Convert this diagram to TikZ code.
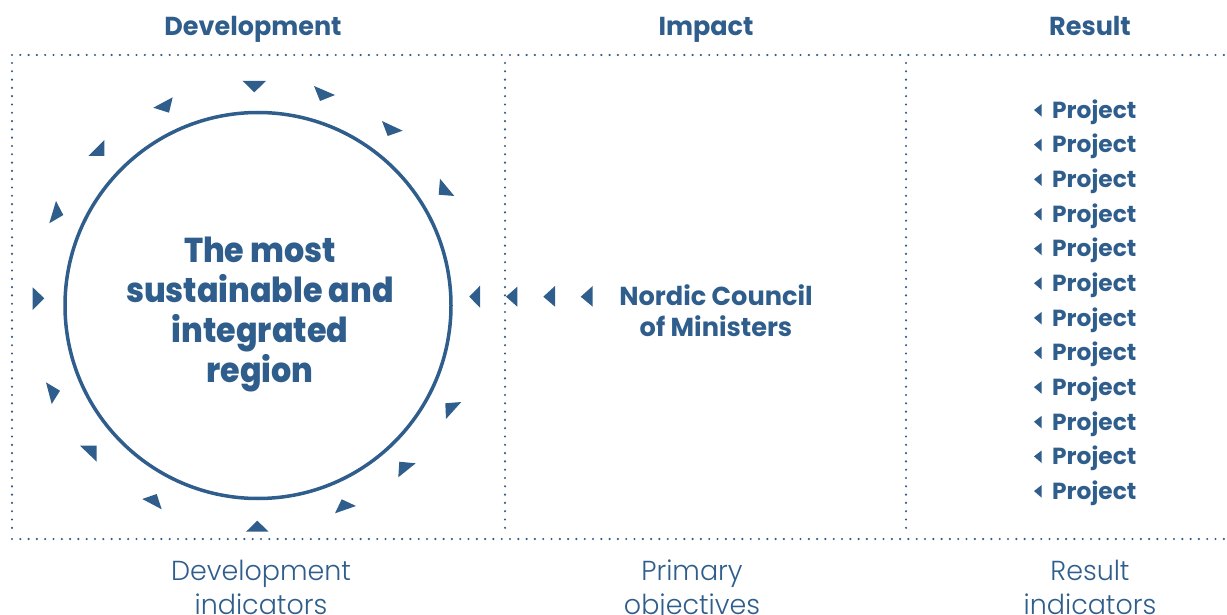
\documentclass[tikz,border=0pt]{standalone}
\usepackage{fontspec}
\setmainfont{Poppins}
\newfontfamily\plight{Poppins Light}
\newfontfamily\pbold{Poppins Bold}
\newfontfamily\pxbold{Poppins ExtraBold}
\definecolor{nblue}{RGB}{47,94,140}
\tikzset{
  dotline/.style={nblue, line width=2.4pt, line cap=round, dash pattern=on 0pt off 8.3pt},
  head/.style={text=nblue, font=\pbold\fontsize{26}{30}\selectfont, xscale=0.98, anchor=base, inner sep=0pt},
  foot/.style={text=nblue, font=\plight\fontsize{27.5}{32}\selectfont, xscale=0.98, anchor=base, inner sep=0pt},
  goalline/.style={text=nblue, font=\pxbold\fontsize{34.5}{40}\selectfont, xscale=0.92, anchor=base, inner sep=0pt},
  ncm/.style={text=nblue, font=\pbold\fontsize{26}{30}\selectfont, xscale=0.985, anchor=base, inner sep=0pt},
  proj/.style={text=nblue, font=\pbold\fontsize{23.3}{28}\selectfont, anchor=base west, inner sep=0pt},
  tri/.style={fill=nblue, draw=none},
}
\begin{document}
\begin{tikzpicture}[x=1pt,y=-1pt]
\useasboundingbox (0,0) rectangle (1227,615);
% dotted frame
\draw[dotline] (12,55) -- (1227,55);
\draw[dotline] (12,539) -- (1227,539);
\draw[dotline] (12,63) -- (12,531);
\draw[dotline] (505,63) -- (505,531);
\draw[dotline] (906,63) -- (906,531);
% headers
\node[head] (hdev) at (253,36) {Development};
\node[head] (himp) at (706,36) {Impact};
\node[head] (hres) at (1090,36) {Result};
% goal circle
\node[draw=nblue, line width=3.5pt, circle, minimum size=386pt, inner sep=0pt] (goal) at (258,305.5) {};
\node[goalline] (g1) at (260,262.7) {The most};
\node[goalline] (g2) at (260,302.7) {sustainable and};
\node[goalline] (g3) at (260,342.7) {integrated};
\node[goalline] (g4) at (260,382.7) {region};
% ring of triangles
\fill[tri] (242.7,81) -- (266,81) -- (254.3,92.3) -- cycle;
\fill[tri] (314,86) -- (335,95) -- (320,101) -- cycle;
\fill[tri] (382,121) -- (402.7,130.7) -- (387.7,136) -- cycle;
\fill[tri] (440,178.7) -- (454.3,196) -- (438.7,194.7) -- cycle;
\fill[tri] (480,285.7) -- (469.3,296.7) -- (480,307.7) -- cycle;
\fill[tri] (446,419) -- (445.3,403.3) -- (461.3,402) -- cycle;
\fill[tri] (398.3,477.3) -- (399.3,461.7) -- (415.7,463.3) -- cycle;
\fill[tri] (335,513.3) -- (341.7,499.3) -- (356,506) -- cycle;
\fill[tri] (246,531.7) -- (257.3,520.7) -- (268.7,531.7) -- cycle;
\fill[tri] (142.3,499) -- (156.7,494) -- (161.7,509.3) -- cycle;
\fill[tri] (80,445.7) -- (96.7,445.7) -- (96.7,461.7) -- cycle;
\fill[tri] (46,382.3) -- (60,390.7) -- (51.7,404) -- cycle;
\fill[tri] (32.7,287.3) -- (44.3,298.3) -- (32.7,310) -- cycle;
\fill[tri] (49.3,223.3) -- (56,201) -- (63.3,215) -- cycle;
\fill[tri] (88.3,156) -- (104.3,140) -- (104.3,156) -- cycle;
\fill[tri] (153.3,107.7) -- (172.7,97.3) -- (169,112.7) -- cycle;
% row of arrows from the council
\fill[tri] (506,296.7) -- (517.3,286.7) -- (517.3,306.7) -- cycle;
\fill[tri] (543.3,296.7) -- (555,286) -- (555,306.7) -- cycle;
\fill[tri] (580.7,296.7) -- (592.7,286) -- (592.7,306.7) -- cycle;
% council
\node[ncm] (ncm1) at (716,305) {Nordic Council};
\node[ncm] (ncm2) at (716,336.7) {of Ministers};
% projects
\foreach \i in {0,...,11}{
  \pgfmathsetmacro{\yb}{118.3+34.64*\i}
  \node[proj] (p\i) at (1052,\yb) {Project};
  \fill[tri] (1034,\yb-8.3) -- (1041.7,\yb-14.3) -- (1041.7,\yb-1.6) -- cycle;
}
% footers
\node[foot] (f1a) at (261,580) {Development};
\node[foot] (f1b) at (261,614) {indicators};
\node[foot] (f2a) at (692,580) {Primary};
\node[foot] (f2b) at (692,614) {objectives};
\node[foot] (f3a) at (1090,580) {Result};
\node[foot] (f3b) at (1090,614) {indicators};
\end{tikzpicture}
\end{document}
